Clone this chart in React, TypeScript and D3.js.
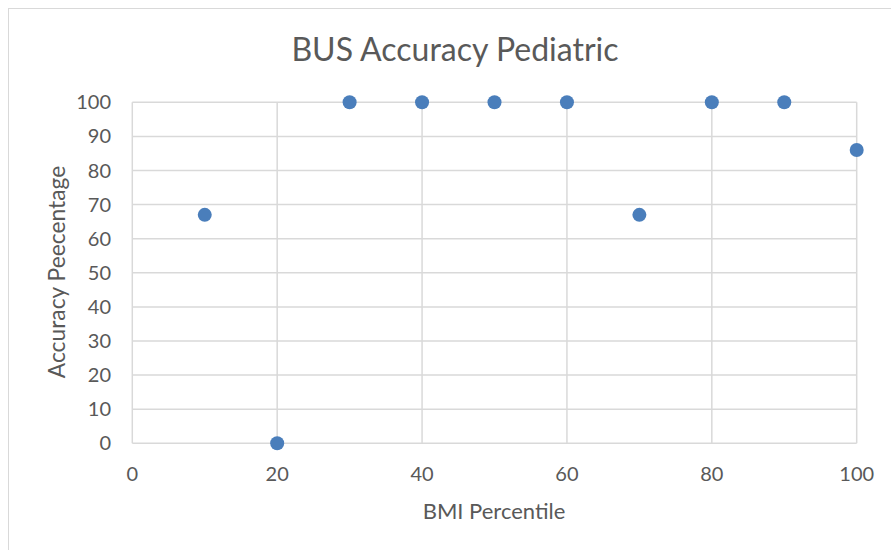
import React from "react";
import * as d3 from "d3";

const xValues = [10, 20, 30, 40, 50, 60, 70, 80, 90, 100];
const yValues = [67, 0, 100, 100, 100, 100, 67, 100, 100, 86];
const xTicks = [0, 20, 40, 60, 80, 100];
const yTicks = [0, 10, 20, 30, 40, 50, 60, 70, 80, 90, 100];
const title = "BUS Accuracy Pediatric";
const xTitle = "BMI Percentile";
const yTitle = "Accuracy Peecentage";

export default function App() {
  const W = 891, H = 550;
  const x = d3.scaleLinear().domain([0, 100]).range([132.3, 856.7]);
  const y = d3.scaleLinear().domain([0, 100]).range([443.3, 102.3]);
  const font = "Lato, 'Open Sans', sans-serif";
  const grid = "#d9d9d9";
  const text = "#595959";
  return (
    <svg width={W} height={H} style={{ position: "absolute", left: 0, top: 0, display: "block" }}>
      <rect x={0} y={0} width={W} height={H} fill="#fff" />
      <rect x={8.5} y={8.5} width={W + 10} height={H + 10} fill="#fff" stroke={grid} strokeWidth={1} />
      <text x={455} y={61} textAnchor="middle" fontFamily={font} fontSize={32} fill={text}>{title}</text>
      {yTicks.map((t) => (
        <line key={"h" + t} x1={x(0)} x2={x(100)} y1={y(t)} y2={y(t)} stroke={grid} strokeWidth={1.5} />
      ))}
      {xTicks.map((t) => (
        <line key={"v" + t} x1={x(t)} x2={x(t)} y1={y(0)} y2={y(100)} stroke={grid} strokeWidth={1.5} />
      ))}
      {yTicks.map((t) => (
        <text key={"yl" + t} x={111} y={y(t)} dy="0.35em" textAnchor="end" fontFamily={font} fontSize={20} fill={text}>{t}</text>
      ))}
      {xTicks.map((t) => (
        <text key={"xl" + t} x={x(t)} y={474} dy="0.35em" textAnchor="middle" fontFamily={font} fontSize={20} fill={text}>{t}</text>
      ))}
      <text x={494} y={511} dy="0.35em" textAnchor="middle" fontFamily={font} fontSize={22} fill={text}>{xTitle}</text>
      <text transform={`translate(57,272) rotate(-90)`} dy="0.35em" textAnchor="middle" fontFamily={font} fontSize={22.8} fill={text}>{yTitle}</text>
      {xValues.map((v, i) => (
        <circle key={"p" + i} cx={x(v)} cy={y(yValues[i])} r={7} fill="#4a7ebb" />
      ))}
    </svg>
  );
}
